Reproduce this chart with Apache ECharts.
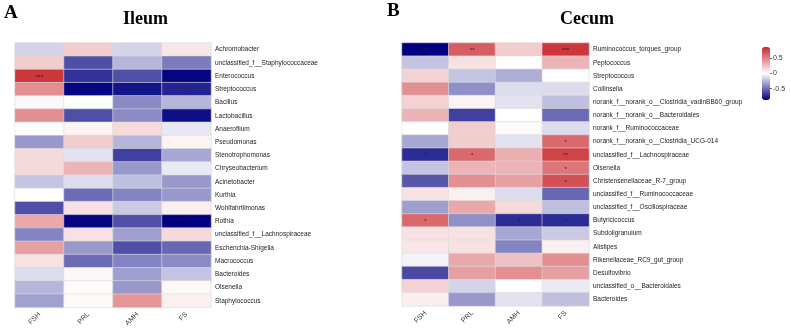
<!DOCTYPE html>
<html>
<head>
<meta charset="UTF-8">
<title>Ileum / Cecum correlation heatmap</title>
<script src="https://cdn.jsdelivr.net/npm/echarts@6/dist/echarts.min.js"></script>
<style>
  html, body { margin: 0; padding: 0; background: #fff; }
  #chart { width: 791px; height: 329px; }
</style>
</head>
<body>
<div id="chart"></div>
<script>
const hormones = ['FSH', 'PRL', 'AMH', 'FS'];

const ileumTaxa = ['Achromobacter', 'unclassified_f__Staphylococcaceae', 'Enterococcus', 'Streptococcus',
  'Bacillus', 'Lactobacillus', 'Anaerofilum', 'Pseudomonas', 'Stenotrophomonas', 'Chryseobacterium',
  'Acinetobacter', 'Kurthia', 'Wohlfahrtiimonas', 'Rothia', 'unclassified_f__Lachnospiraceae',
  'Escherichia-Shigella', 'Macrococcus', 'Bacteroides', 'Olsenella', 'Staphylococcus'];

// one row per taxon: FSH, PRL, AMH, FS
const ileumR = [
  [-0.15, 0.20, -0.15, 0.10],
  [0.20, -0.60, -0.25, -0.45],
  [0.80, -0.70, -0.60, -0.85],
  [0.45, -0.85, -0.80, -0.75],
  [0.03, 0.00, -0.40, -0.25],
  [0.45, -0.60, -0.40, -0.82],
  [0.00, 0.05, 0.15, -0.08],
  [-0.35, 0.20, -0.25, 0.05],
  [0.15, -0.10, -0.65, -0.30],
  [0.15, 0.30, -0.35, -0.07],
  [-0.20, -0.12, -0.22, -0.35],
  [0.00, -0.50, -0.42, -0.35],
  [-0.60, 0.12, -0.18, 0.07],
  [0.35, -0.85, -0.60, -0.88],
  [-0.42, 0.12, -0.33, 0.15],
  [0.38, -0.35, -0.60, -0.52],
  [0.12, -0.50, -0.42, -0.40],
  [-0.12, 0.03, -0.33, -0.20],
  [-0.25, 0.02, -0.35, 0.03],
  [-0.32, 0.02, 0.42, 0.06]
];

const ileumSig = [
  ['', '', '', ''], ['', '', '', ''], ['***', '', '', '*'], ['', '*', '*', '*'],
  ['', '', '', ''], ['', '', '', '*'], ['', '', '', ''], ['', '', '', ''],
  ['', '', '', ''], ['', '', '', ''], ['', '', '', ''], ['', '', '', ''],
  ['', '', '', ''], ['', '*', '', '*'], ['', '', '', ''], ['', '', '', ''],
  ['', '', '', ''], ['', '', '', ''], ['', '', '', ''], ['', '', '', '']
];

const cecumTaxa = ['Ruminococcus_torques_group', 'Peptococcus', 'Streptococcus', 'Collinsella',
  'norank_f__norank_o__Clostridia_vadinBB60_group', 'norank_f__norank_o__Bacteroidales',
  'norank_f__Ruminococcaceae', 'norank_f__norank_o__Clostridia_UCG-014', 'unclassified_f__Lachnospiraceae',
  'Olsenella', 'Christensenellaceae_R-7_group', 'unclassified_f__Ruminococcaceae',
  'unclassified_f__Oscillospiraceae', 'Butyricicoccus', 'Subdoligranulum', 'Alistipes',
  'Rikenellaceae_RC9_gut_group', 'Desulfovibrio', 'unclassified_o__Bacteroidales', 'Bacteroides'];

const cecumR = [
  [-0.87, 0.65, 0.20, 0.80],
  [-0.20, 0.12, 0.00, 0.30],
  [0.18, -0.20, -0.28, 0.01],
  [0.45, -0.38, -0.12, -0.12],
  [0.18, 0.05, -0.10, -0.22],
  [0.30, -0.65, 0.00, -0.50],
  [0.00, 0.20, 0.02, -0.12],
  [-0.30, 0.20, -0.10, 0.60],
  [-0.72, 0.60, 0.32, 0.75],
  [-0.20, 0.30, 0.30, 0.55],
  [-0.58, 0.45, 0.38, 0.70],
  [0.12, 0.06, -0.12, -0.52],
  [-0.33, 0.35, 0.15, -0.22],
  [0.60, -0.38, -0.72, -0.72],
  [0.12, 0.12, -0.30, -0.18],
  [0.10, 0.12, -0.42, 0.06],
  [-0.04, 0.35, 0.25, 0.45],
  [-0.62, 0.38, 0.45, 0.38],
  [0.18, -0.15, 0.00, -0.07],
  [0.07, -0.35, -0.10, -0.22]
];

const cecumSig = [
  ['***', '**', '', '***'], ['', '', '', ''], ['', '', '', ''], ['', '', '', ''],
  ['', '', '', ''], ['', '', '', ''], ['', '', '', ''], ['', '', '', '*'],
  ['*', '*', '', '**'], ['', '', '', '*'], ['', '', '', '*'], ['', '', '', ''],
  ['', '', '', ''], ['*', '', '*', '*'], ['', '', '', ''], ['', '', '', ''],
  ['', '', '', ''], ['', '', '', ''], ['', '', '', ''], ['', '', '', '']
];

const legendTicks = [-0.5, 0, 0.5];
const colorMin = -0.87, colorMax = 0.87;

function cells(r, sig) {
  const out = [];
  r.forEach((row, y) => row.forEach((v, x) => out.push([x, y, v, sig[y][x]])));
  return out;
}

const chart = echarts.init(document.getElementById('chart'));
const font = 'Liberation Sans, Arial, sans-serif';
const serif = 'Liberation Serif, Times New Roman, serif';

function xAxis(gi) {
  return {
    type: 'category', gridIndex: gi, data: hormones, position: 'bottom',
    axisLine: { show: false }, axisTick: { show: false }, splitLine: { show: false },
    axisLabel: { rotate: 45, fontSize: 7, color: '#333', fontFamily: font, margin: 6 }
  };
}
function yAxis(gi, taxa) {
  return {
    type: 'category', gridIndex: gi, data: taxa, inverse: true, position: 'right',
    axisLine: { show: false }, axisTick: { show: false }, splitLine: { show: false },
    axisLabel: { fontSize: 6.5, color: '#222', fontFamily: font, margin: 4 }
  };
}
function heat(gi, data) {
  return {
    type: 'heatmap', xAxisIndex: gi, yAxisIndex: gi, data: data,
    encode: { x: 0, y: 1, value: 2 },
    itemStyle: { borderColor: '#dcdcdc', borderWidth: 0.6 },
    label: {
      show: true, formatter: p => p.data[3], fontSize: 6, color: '#222',
      fontFamily: font, offset: [0, 1]
    },
    emphasis: { disabled: true }
  };
}

chart.setOption({
  animation: false,
  graphic: [
    { type: 'text', left: 4, top: 4, style: { text: 'A', font: 'bold 19px ' + serif, fill: '#000' } },
    { type: 'text', left: 387, top: 2, style: { text: 'B', font: 'bold 19px ' + serif, fill: '#000' } },
    { type: 'text', left: 123, top: 10, style: { text: 'Ileum', font: 'bold 18px ' + serif, fill: '#000' } },
    { type: 'text', left: 560, top: 10, style: { text: 'Cecum', font: 'bold 18px ' + serif, fill: '#000' } }
  ],
  grid: [
    { left: 15, top: 43, width: 196, height: 266 },
    { left: 402, top: 43, width: 187, height: 263 },
    { left: 762, top: 47, width: 8, height: 53 }
  ],
  xAxis: [xAxis(0), xAxis(1), { type: 'category', gridIndex: 2, data: [''], show: false }],
  yAxis: [
    yAxis(0, ileumTaxa), yAxis(1, cecumTaxa),
    {
      type: 'value', gridIndex: 2, min: colorMin, max: colorMax, position: 'right',
      splitLine: { show: false }, axisLine: { show: false },
      axisTick: { show: true, length: 2, customValues: legendTicks, lineStyle: { color: '#666' } },
      axisLabel: { customValues: legendTicks, fontSize: 7, color: '#333', fontFamily: font, margin: 3 }
    }
  ],
  visualMap: {
    type: 'continuous', min: colorMin, max: colorMax, seriesIndex: [0, 1], dimension: 2,
    calculable: false, text: ['', ''], showLabel: false,
    left: 762, top: 47, itemWidth: 8, itemHeight: 53, padding: 0,
    inRange: { color: ['#000080', '#ffffff', '#C8262B'] }
  },
  series: [heat(0, cells(ileumR, ileumSig)), heat(1, cells(cecumR, cecumSig))]
});
</script>
</body>
</html>
